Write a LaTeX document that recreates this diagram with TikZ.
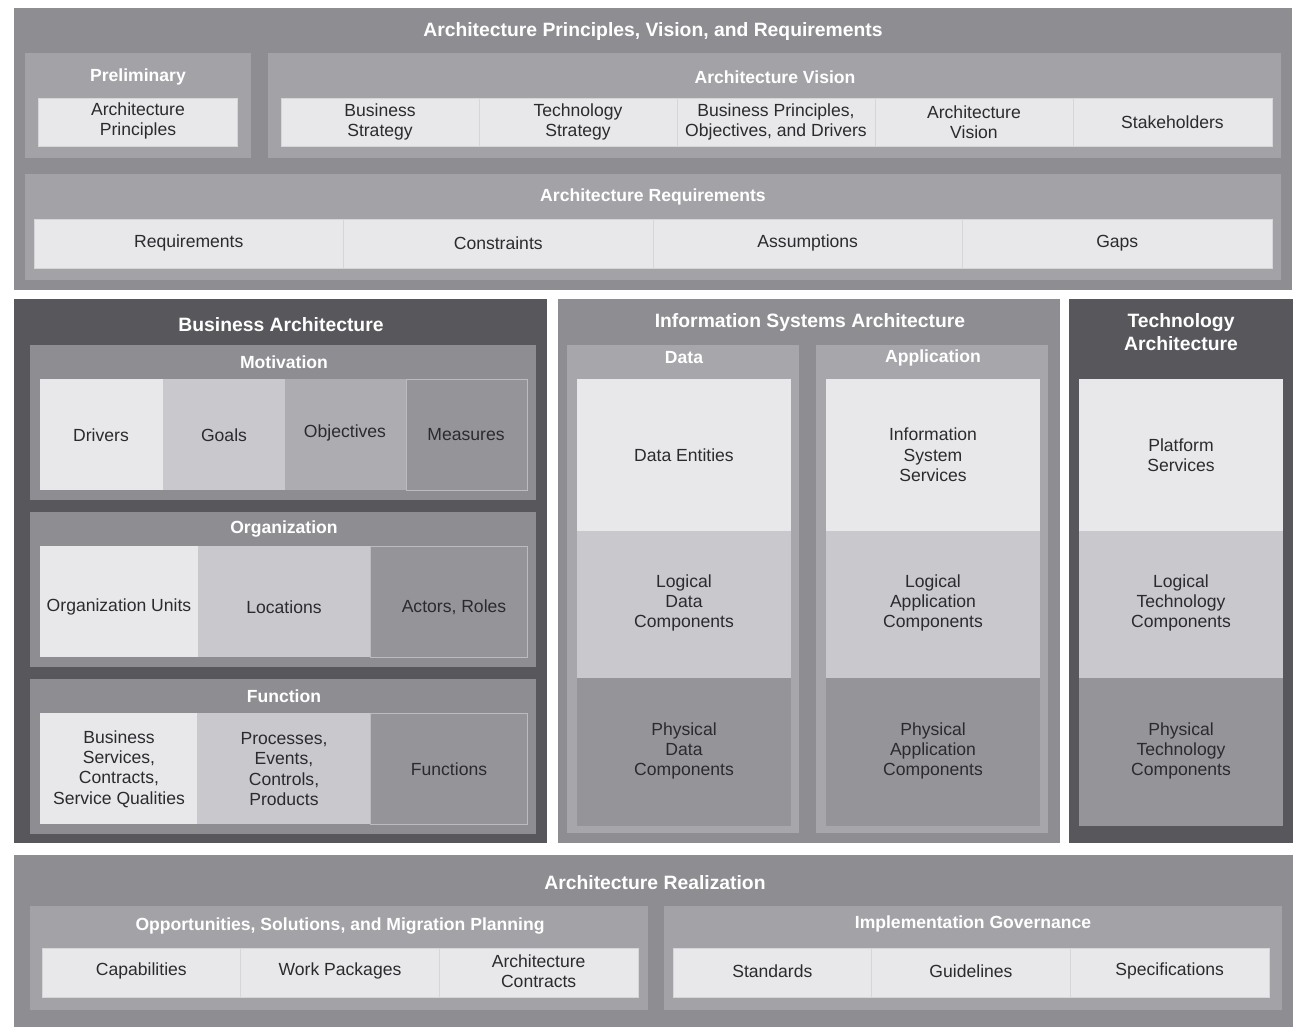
\documentclass[tikz,border=0pt]{standalone}
\usepackage{fontspec}
\setmainfont{Liberation Sans}
\usepackage{tikz}
\usetikzlibrary{positioning}
\usepackage{xcolor}
\definecolor{ink}{HTML}{2B2A2E}
\definecolor{outer1}{HTML}{8E8D92}
\definecolor{frame1}{HTML}{A3A2A7}
\definecolor{frame2}{HTML}{A7A6AB}
\definecolor{dark1}{HTML}{58575C}
\definecolor{cell1}{HTML}{E8E8EA}
\definecolor{cell2}{HTML}{C9C8CC}
\definecolor{cell3}{HTML}{ADACB0}
\definecolor{cell4}{HTML}{959499}
\definecolor{sep1}{HTML}{D6D6D9}

\begin{document}
\begin{tikzpicture}[x=0.02cm,y=-0.02cm,font=\fontsize{10}{11.6}\selectfont,
  lbl/.style={text=ink,align=center},
  ttl/.style={text=white,align=center,font=\fontsize{10}{12}\selectfont\bfseries},
  bigttl/.style={text=white,align=center,font=\fontsize{11}{13.5}\selectfont\bfseries},
  cellbox/.style={fill=cell1,draw=sep1,line width=0.5pt}]
  \fill[white] (0,0) rectangle (1303,1035); \useasboundingbox (0,0) rectangle (1303,1035);
  % top band: principles, vision, requirements
  \fill[outer1] (14,8) rectangle (1292,290); \node[bigttl] (apvr) at (653,31) {Architecture Principles, Vision, and Requirements};
  \fill[frame1] (25,53) rectangle (251,158); \fill[frame1] (268,53) rectangle (1281,158); \fill[frame1] (25,174) rectangle (1281,280);
  \node[ttl] (prelim) at (138,77) {Preliminary}; \node[ttl] (vision) at (775,77) {Architecture Vision}; \node[ttl] (reqs) at (653,197) {Architecture Requirements};
  \draw[cellbox] (38,98) rectangle (237,146); \node[lbl] (principles) at (138,121) {Architecture\\Principles};
  \foreach \a/\b/\t/\n in {281/479/{Business\\Strategy}/bstrat, 479/677/{Technology\\Strategy}/tstrat, 677/875/{Business Principles,\\Objectives, and Drivers}/bprin, 875/1073/{Architecture\\Vision}/avis, 1073/1272/{Stakeholders}/stake}
    {\draw[cellbox] (\a,98) rectangle (\b,146); \node[lbl] (\n) at ({(\a+\b)/2},122) {\t};}
  \foreach \a/\b/\t/\n in {34/343.5/Requirements/req, 343.5/653/Constraints/con, 653/962.5/Assumptions/ass, 962.5/1272/Gaps/gap}
    {\draw[cellbox] (\a,219) rectangle (\b,268); \node[lbl] (\n) at ({(\a+\b)/2},243) {\t};}
  % business architecture
  \fill[dark1] (14,299) rectangle (547,843); \node[bigttl] (busarch) at (281,325) {Business Architecture};
  \foreach \y in {345,512,679} \fill[outer1] (30,\y) rectangle (536,\y+155);
  \node[ttl] (motiv) at (284,362) {Motivation}; \node[ttl] (org) at (284,529) {Organization}; \node[ttl] (func) at (284,696) {Function};
  \fill[cell1] (40,379) rectangle (163,490); \fill[cell2] (163,379) rectangle (285,490); \fill[cell3] (285,379) rectangle (406,490); \fill[cell4,draw=sep1!60!cell4] (406,379) rectangle (527,490);
  \node[lbl] (drivers) at (101,435) {Drivers}; \node[lbl] (goals) at (224,435) {Goals}; \node[lbl] (objectives) at (345,433) {Objectives}; \node[lbl] (measures) at (466,435) {Measures};
  \fill[cell1] (40,546) rectangle (198,657); \fill[cell2] (198,546) rectangle (370,657); \fill[cell4,draw=sep1!60!cell4] (370,546) rectangle (527,657);
  \node[lbl] (orgunits) at (119,607) {Organization Units}; \node[lbl] (locations) at (284,607) {Locations}; \node[lbl] (actors) at (454,607) {Actors, Roles};
  \fill[cell1] (40,713) rectangle (197,824); \fill[cell2] (197,713) rectangle (370,824); \fill[cell4,draw=sep1!60!cell4] (370,713) rectangle (527,824);
  \node[lbl] (bservices) at (119,769) {Business\\Services,\\Contracts,\\Service Qualities}; \node[lbl] (processes) at (284,769) {Processes,\\Events,\\Controls,\\Products}; \node[lbl] (functions) at (449,769) {Functions};
  % information systems and technology columns
  \fill[outer1] (558,299) rectangle (1060,843); \node[bigttl] (isarch) at (810,322) {Information Systems Architecture};
  \fill[frame2] (567,345) rectangle (799,833); \fill[frame2] (816,345) rectangle (1048,833);
  \node[ttl] (data) at (684,358) {Data}; \node[ttl] (appl) at (933,358) {Application};
  \fill[dark1] (1069,299) rectangle (1293,843); \node[bigttl] (techarch) at (1181,332) {Technology\\Architecture};
  \foreach \a/\b in {577/791, 826/1040, 1079/1283} {\fill[cell1] (\a,379) rectangle (\b,531); \fill[cell2] (\a,531) rectangle (\b,678); \fill[cell4] (\a,678) rectangle (\b,826);}
  \node[lbl] (dentities) at (684,455) {Data Entities}; \node[lbl] (ldata) at (684,603) {Logical\\Data\\Components}; \node[lbl] (pdata) at (684,751) {Physical\\Data\\Components};
  \node[lbl] (isservices) at (933,455) {Information\\System\\Services}; \node[lbl] (lapp) at (933,603) {Logical\\Application\\Components}; \node[lbl] (papp) at (933,751) {Physical\\Application\\Components};
  \node[lbl] (platform) at (1181,455) {Platform\\Services}; \node[lbl] (ltech) at (1181,603) {Logical\\Technology\\Components}; \node[lbl] (ptech) at (1181,751) {Physical\\Technology\\Components};
  % realization band
  \fill[outer1] (14,855) rectangle (1293,1027); \node[bigttl] (realiz) at (655,883) {Architecture Realization};
  \fill[frame1] (30,906) rectangle (648,1010); \fill[frame1] (664,906) rectangle (1282,1010);
  \node[ttl] (osmp) at (340,926) {Opportunities, Solutions, and Migration Planning}; \node[ttl] (implgov) at (973,924) {Implementation Governance};
  \foreach \a/\b/\t/\n in {42/240.7/Capabilities/capab, 240.7/439.3/{Work Packages}/workpk, 439.3/638/{Architecture\\Contracts}/contracts, 673/871.7/Standards/standards, 871.7/1070.3/Guidelines/guidelines, 1070.3/1269/Specifications/specs}
    {\draw[cellbox] (\a,948) rectangle (\b,997); \node[lbl] (\n) at ({(\a+\b)/2},971) {\t};}
\end{tikzpicture}
\end{document}
